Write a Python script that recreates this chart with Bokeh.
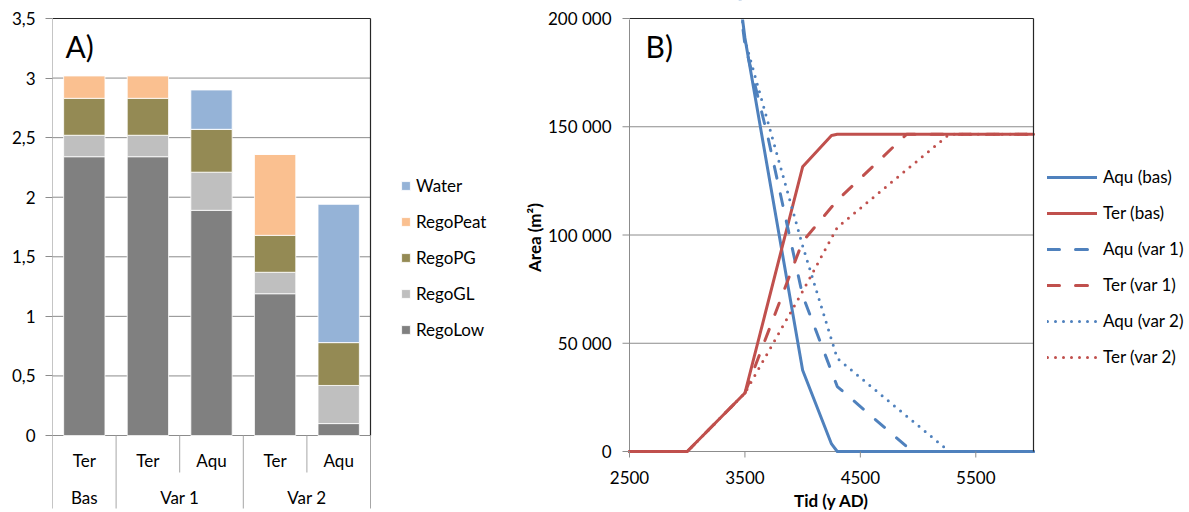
import math
from bokeh.plotting import figure
from bokeh.models import ColumnDataSource, Range1d, FixedTicker, Legend, LegendItem, Label
from bokeh.layouts import row
from bokeh.embed import file_html
from bokeh.resources import INLINE
from bokeh.core.properties import value

FONT = "Lato"
FS = "17px"
GRID = "#8c8c8c"
BORDER = "#262626"
TEXT = "#000000"

# ---------------- Panel A: stacked regolith volumes ----------------
groups = ["Bas", "Var 1", "Var 1", "Var 2", "Var 2"]
subgroups = ["Ter", "Ter", "Aqu", "Ter", "Aqu"]
rego_low = [2.34, 2.34, 1.89, 1.19, 0.10]
rego_gl = [0.18, 0.18, 0.32, 0.18, 0.32]
rego_pg = [0.31, 0.31, 0.36, 0.31, 0.36]
rego_peat = [0.19, 0.19, 0.0, 0.68, 0.0]
water = [0.0, 0.0, 0.33, 0.0, 1.16]
layer_names = ["RegoLow", "RegoGL", "RegoPG", "RegoPeat", "Water"]
layer_colors = ["#808080", "#bfbfbf", "#948a54", "#fac090", "#95b3d7"]
a_ticks = [0, 0.5, 1, 1.5, 2, 2.5, 3, 3.5]
a_tick_labels = ["0", "0,5", "1", "1,5", "2", "2,5", "3", "3,5"]

# ---------------- Panel B: area over time ----------------
ter_bas_x = [2500, 3000, 3500, 4000, 4250, 4300, 6000]
ter_bas_y = [0, 0, 27000, 131500, 146000, 146500, 146500]
aqu_bas_x = [3000, 3500, 4000, 4250, 4300, 6000]
aqu_bas_y = [400000, 191000, 37500, 3500, 0, 0]
aqu_var1_x = [3000, 3500, 3700, 4000, 4300, 4950, 6000]
aqu_var1_y = [400000, 188000, 145000, 72000, 30000, 0, 0]
ter_var1_x = [2500, 3000, 3500, 4000, 4300, 4900, 6000]
ter_var1_y = [0, 0, 27000, 97000, 116000, 146500, 146500]
aqu_var2_x = [3000, 3500, 4000, 4300, 5270, 6000]
aqu_var2_y = [400000, 190000, 95000, 43000, 0, 0]
ter_var2_x = [2500, 3000, 3500, 4000, 4300, 5270, 6000]
ter_var2_y = [0, 0, 27000, 74000, 103500, 146500, 146500]
b_xmin, b_xmax = 2500, 6000
b_ymax = 200000
b_xticks = [2500, 3500, 4500, 5500]
b_xtick_labels = ["2500", "3500", "4500", "5500"]
b_yticks = [0, 50000, 100000, 150000, 200000]
b_ytick_labels = ["0", "50 000", "100 000", "150 000", "200 000"]

H = 512
TOP, BOTTOM = 0, 0            # shared frame borders of both panels
FRAME_BOTTOM = H - BOTTOM

# ================= Panel A =================
n = len(subgroups)
a_px = 417 / 3.5            # pixels per unit (y)
a_xpx = 318 / n             # pixels per category
a_zero, a_top_px = 435, 18  # pixel rows of y = 0 and y = 3.5
A_W, A_LEFT = 520, 52

pa = figure(width=A_W, height=H, title=None,
            x_range=Range1d(0, (A_W - A_LEFT) / a_xpx),
            y_range=Range1d(-(FRAME_BOTTOM - a_zero) / a_px,
                            3.5 + (a_top_px - TOP) / a_px),
            min_border_left=A_LEFT, min_border_right=0,
            min_border_top=TOP, min_border_bottom=BOTTOM,
            toolbar_location=None, output_backend="svg")
pa.xaxis.visible = False
pa.grid.visible = False
pa.outline_line_color = None
pa.background_fill_color = "white"
pa.border_fill_color = "white"

ya = pa.yaxis[0]
ya.ticker = FixedTicker(ticks=a_ticks)
ya.major_label_overrides = dict(zip(a_ticks, a_tick_labels))
ya.axis_line_color = None
ya.major_tick_line_color = GRID
ya.minor_tick_line_color = None
ya.major_tick_out = 7
ya.major_tick_in = 0
ya.major_label_standoff = 10
ya.major_label_text_font = FONT
ya.major_label_text_font_size = FS
ya.major_label_text_color = TEXT

sep_bottom = -73 / a_px
row1_bottom = -37 / a_px

# horizontal grid, base line and top border
for t in a_ticks:
    top = t == a_ticks[-1]
    pa.segment(x0=0, x1=n, y0=t, y1=t, line_color=BORDER if top else GRID,
               line_width=1.2 if top else 1)
pa.segment(x0=n, x1=n, y0=0, y1=a_ticks[-1], line_color=BORDER, line_width=1.2)
pa.segment(x0=0, x1=0, y0=sep_bottom, y1=a_ticks[-1], line_color=GRID, line_width=1)

src = ColumnDataSource(dict(x=[i + 0.5 for i in range(n)],
                            RegoLow=rego_low, RegoGL=rego_gl, RegoPG=rego_pg,
                            RegoPeat=rego_peat, Water=water))
bars = pa.vbar_stack(layer_names, x="x", width=0.65, color=layer_colors,
                     line_color="white", line_width=0.8, source=src)

# category separators under the axis
for i in range(1, n + 1):
    full = i == n or groups[i - 1] != groups[i]
    pa.segment(x0=i, x1=i, y0=0, y1=sep_bottom if full else row1_bottom,
               line_color="#a6a6a6", line_width=1)

pa.text(x=[i + 0.5 for i in range(n)], y=[-25 / a_px] * n, text=subgroups,
        text_align="center", text_baseline="middle",
        text_font=value(FONT), text_font_size=FS, text_color=TEXT)

grp_names, grp_spans = [], []
for i, g in enumerate(groups):
    if not grp_names or grp_names[-1] != g:
        grp_names.append(g)
        grp_spans.append([i, i + 1])
    else:
        grp_spans[-1][1] = i + 1
pa.text(x=[(a + b) / 2 for a, b in grp_spans], y=[-62 / a_px] * len(grp_names),
        text=grp_names, text_align="center", text_baseline="middle",
        text_font=value(FONT), text_font_size=FS, text_color=TEXT)

pa.add_layout(Label(x=13, y=FRAME_BOTTOM - 27, x_units="screen", y_units="screen",
                    text="A)", text_font=FONT, text_font_size="30px",
                    text_baseline="top", text_color=TEXT))

legend_a = Legend(items=[LegendItem(label=nm, renderers=[r])
                         for nm, r in reversed(list(zip(layer_names, bars)))],
                  location=(348, FRAME_BOTTOM - 340), glyph_width=11, glyph_height=11,
                  label_height=20, spacing=15, label_standoff=5,
                  padding=0, margin=0, border_line_color=None,
                  background_fill_alpha=0, label_text_font=FONT,
                  label_text_font_size=FS, label_text_color=TEXT)
pa.add_layout(legend_a)

# ================= Panel B =================
B_W = 1189 - A_W
B_X0PX, B_X1PX = 629, 1033          # pixel columns of x = 2500 and x = 6000
B_Y0PX, B_Y1PX = 451, 18            # pixel rows of y = 0 and y = 200 000
b_xunit = (b_xmax - b_xmin) / (B_X1PX - B_X0PX)
b_unit = b_ymax / (B_Y0PX - B_Y1PX)


def bx(px):
    return b_xmin + (px - B_X0PX) * b_xunit


def by(py):
    return (B_Y0PX - py) * b_unit


pb = figure(width=B_W, height=H, title=None,
            x_range=Range1d(bx(A_W), bx(1189)),
            y_range=Range1d(by(FRAME_BOTTOM), by(TOP)),
            min_border_left=0, min_border_right=0,
            min_border_top=TOP, min_border_bottom=BOTTOM,
            toolbar_location=None, output_backend="svg")
pb.grid.visible = False
pb.xaxis.visible = False
pb.yaxis.visible = False
pb.outline_line_color = None
pb.background_fill_color = "white"
pb.border_fill_color = "white"

# grid lines and left axis
for t in b_yticks[:-1]:
    pb.segment(x0=b_xmin, x1=b_xmax, y0=t, y1=t, line_color=GRID, line_width=1)
pb.segment(x0=b_xmin, x1=b_xmin, y0=0, y1=b_ymax, line_color=GRID, line_width=1)

BLUE, RED = "#4f81bd", "#c0504d"
series = [
    ("Aqu (bas)", aqu_bas_x, aqu_bas_y, BLUE, "solid"),
    ("Ter (bas)", ter_bas_x, ter_bas_y, RED, "solid"),
    ("Aqu (var 1)", aqu_var1_x, aqu_var1_y, BLUE, "12 16"),
    ("Ter (var 1)", ter_var1_x, ter_var1_y, RED, "12 16"),
    ("Aqu (var 2)", aqu_var2_x, aqu_var2_y, BLUE, "0 8"),
    ("Ter (var 2)", ter_var2_x, ter_var2_y, RED, "0 8"),
]
items = []
for name, xs, ys, col, dash in series:
    r = pb.line(xs, ys, line_color=col, line_width=3, line_dash=dash,
                line_cap="round", line_join="round")
    items.append(LegendItem(label=name, renderers=[r]))

# mask everything above the plot area, then the top and right border
pb.quad(left=bx(A_W - 20), right=bx(1209), bottom=b_ymax, top=by(TOP - 30),
        fill_color="white", line_color="white", line_width=2)
pb.segment(x0=b_xmin, x1=b_xmax, y0=b_ymax, y1=b_ymax, line_color=BORDER, line_width=1.2)
pb.segment(x0=b_xmax, x1=b_xmax, y0=0, y1=b_ymax, line_color=BORDER, line_width=1.2)

# y axis ticks and labels
pb.segment(x0=[bx(B_X0PX - 7)] * len(b_yticks), x1=[b_xmin] * len(b_yticks),
           y0=b_yticks, y1=b_yticks, line_color=GRID, line_width=1)
pb.text(x=[bx(611)] * len(b_yticks), y=b_yticks, text=b_ytick_labels,
        text_align="right", text_baseline="middle",
        text_font=value(FONT), text_font_size=FS, text_color=TEXT)

# x axis ticks and labels
pb.segment(x0=b_xticks, x1=b_xticks, y0=[0] * len(b_xticks),
           y1=[by(B_Y0PX + 6)] * len(b_xticks), line_color=GRID, line_width=1)
pb.text(x=b_xticks, y=[by(477)] * len(b_xticks), text=b_xtick_labels,
        text_align="center", text_baseline="middle",
        text_font=value(FONT), text_font_size=FS, text_color=TEXT)

pb.text(x=[(b_xmin + b_xmax) / 2], y=[by(500)], text=["Tid (y AD)"],
        text_align="center", text_baseline="middle", text_font_style="bold",
        text_font=value(FONT), text_font_size=FS, text_color=TEXT)
pb.text(x=[bx(534)], y=[by(237)], text=["Area (m²)"], angle=math.pi / 2,
        text_align="center", text_baseline="middle", text_font_style="bold",
        text_font=value(FONT), text_font_size=FS, text_color=TEXT)

pb.add_layout(Label(x=B_X0PX + 16 - A_W, y=FRAME_BOTTOM - 27, x_units="screen",
                    y_units="screen", text="B)", text_font=FONT, text_font_size="30px",
                    text_baseline="top", text_color=TEXT))

legend_b = Legend(items=items, location=(1047 - A_W, FRAME_BOTTOM - 367),
                  glyph_width=50, glyph_height=20,
                  label_height=20, spacing=15, label_standoff=6,
                  padding=0, margin=0, border_line_color=None,
                  background_fill_alpha=0, label_text_font=FONT,
                  label_text_font_size=FS, label_text_color=TEXT)
pb.add_layout(legend_b)

layout = row(pa, pb)
open("out.html", "w").write(file_html(layout, INLINE))
